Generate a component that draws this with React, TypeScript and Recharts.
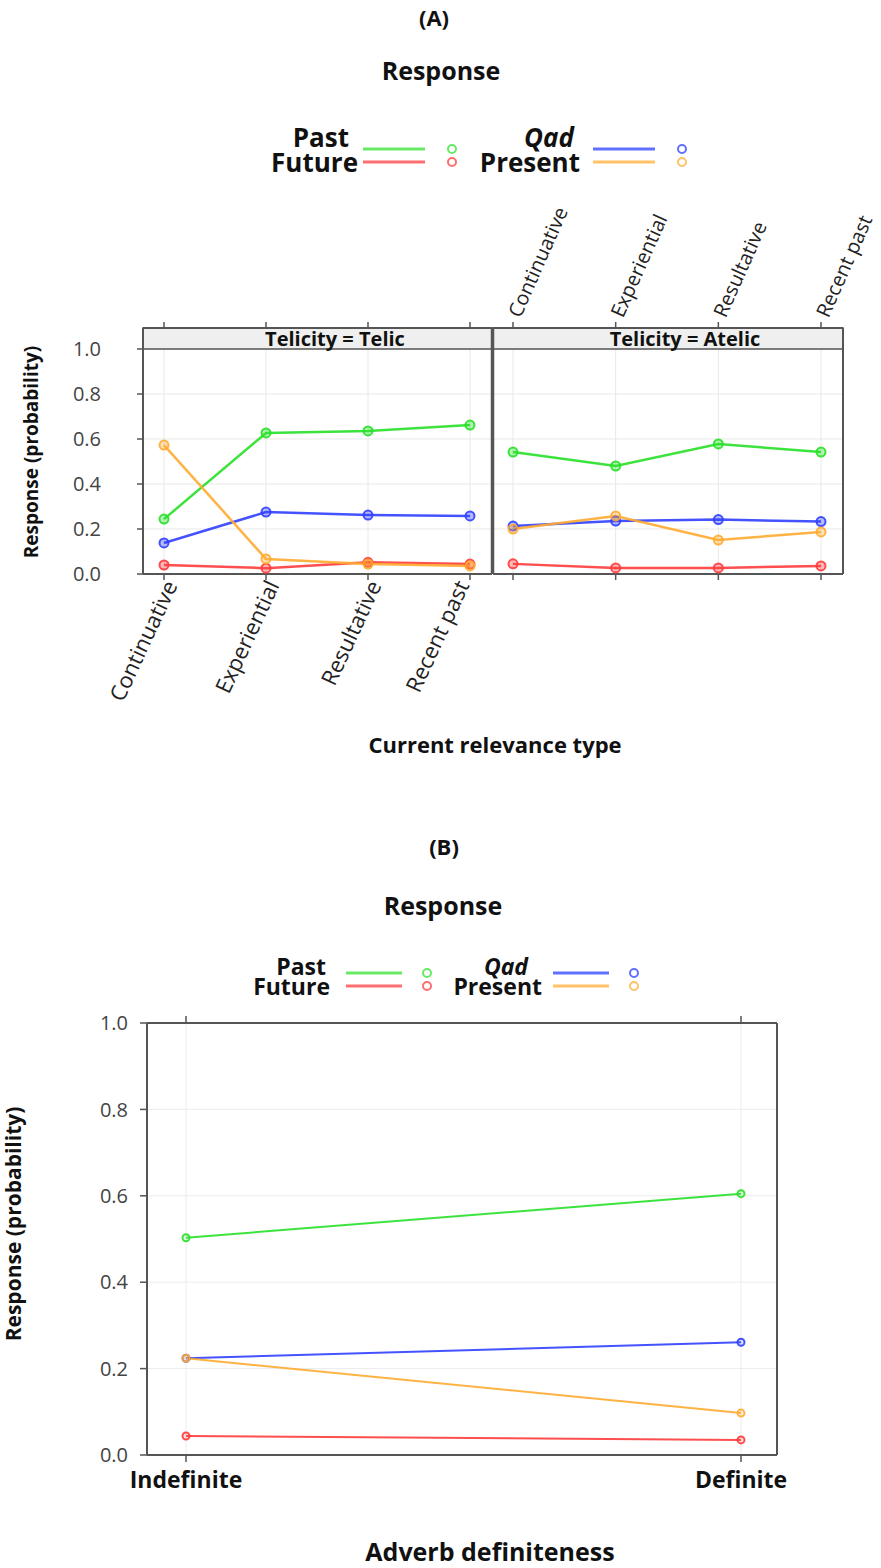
import React from 'react'
import { LineChart, Line, XAxis, YAxis, CartesianGrid, ReferenceArea } from 'recharts'

const FONT = '"Open Sans", "Noto Sans", sans-serif'

// ---- data ----
const relevanceTypes = ['Continuative', 'Experiential', 'Resultative', 'Recent past']

const telicPast = [0.244, 0.627, 0.636, 0.662]
const telicQad = [0.138, 0.275, 0.262, 0.258]
const telicFuture = [0.04, 0.026, 0.052, 0.044]
const telicPresent = [0.573, 0.067, 0.044, 0.036]

const atelicPast = [0.542, 0.48, 0.578, 0.542]
const atelicQad = [0.213, 0.235, 0.242, 0.233]
const atelicFuture = [0.045, 0.027, 0.027, 0.036]
const atelicPresent = [0.2, 0.258, 0.151, 0.187]

const definiteness = ['Indefinite', 'Definite']
const defPast = [0.503, 0.605]
const defQad = [0.224, 0.261]
const defFuture = [0.044, 0.035]
const defPresent = [0.224, 0.097]

const yTicks = [0, 0.2, 0.4, 0.6, 0.8, 1.0]

const seriesKeys = ['past', 'future', 'qad', 'present']
const seriesNames = ['Past', 'Future', 'Qad', 'Present']
const seriesColors = ['#28e028', '#ff3b3b', '#3040ff', '#ffab30']
const legendColors = ['#66ea66', '#ff6e6e', '#6070ff', '#ffc266']

function buildRows(cats: string[], past: number[], future: number[], qad: number[], present: number[]) {
  return cats.map((cat, i) => ({ cat, past: past[i], future: future[i], qad: qad[i], present: present[i] }))
}

const telicRows = buildRows(relevanceTypes, telicPast, telicFuture, telicQad, telicPresent)
const atelicRows = buildRows(relevanceTypes, atelicPast, atelicFuture, atelicQad, atelicPresent)
const defRows = buildRows(definiteness, defPast, defFuture, defQad, defPresent)

const AXIS = '#555'
const STRIP_TOP = 1.0933

const EmptyTick = () => <g />

const BottomRotTick = (props: any) => {
  const { x, y, payload } = props
  const ax = x + 7
  return (
    <text
      x={ax}
      y={y}
      dy="0.35em"
      textAnchor="end"
      transform={`rotate(-65 ${ax} ${y})`}
      fontSize={22}
      fill="#222"
      fontFamily={FONT}
    >
      {payload.value}
    </text>
  )
}

const TopRotTick = (props: any) => {
  const { x, y, payload } = props
  const ax = x + 1
  return (
    <text
      x={ax}
      y={y}
      dy="0.35em"
      textAnchor="start"
      transform={`rotate(-66 ${ax} ${y})`}
      fontSize={20}
      fill="#222"
      fontFamily={FONT}
    >
      {payload.value}
    </text>
  )
}

const stripShape = (padL: number, padR: number) => (p: any) => (
  <rect
    x={p.x - padL}
    y={p.y}
    width={p.width + padL + padR}
    height={p.height}
    fill="#efefef"
    stroke={AXIS}
    strokeWidth={1.5}
  />
)

const stripLabel = (text: string) => (props: any) => {
  const vb = props.viewBox
  return (
    <text
      x={vb.x + vb.width / 2 + 18}
      y={vb.y + vb.height / 2}
      dy="0.36em"
      textAnchor="middle"
      fontSize={20}
      fontWeight={700}
      fill="#111"
      fontFamily={FONT}
    >
      {text}
    </text>
  )
}

function seriesLines(width: number, r: number, fillOpacity: number) {
  return seriesKeys.map((key, i) => (
    <Line
      key={key}
      dataKey={key}
      name={seriesNames[i]}
      stroke={seriesColors[i]}
      strokeWidth={width}
      strokeOpacity={0.9}
      dot={{ r, fill: seriesColors[i], fillOpacity, stroke: seriesColors[i], strokeWidth: 2 }}
      activeDot={false}
      isAnimationActive={false}
    />
  ))
}

const abs: React.CSSProperties = { position: 'absolute', left: 0, top: 0 }

function LegendBlock({ fontSize, baselines, lineYs, cols }: {
  fontSize: number
  baselines: number[]
  lineYs: number[]
  cols: { idx: number[]; textEnds: number[]; lineX: [number, number]; circleX: number }[]
}) {
  return (
    <g fontFamily={FONT} fontWeight={700} fontSize={fontSize}>
      {cols.map((col, c) =>
        col.idx.map((si, row) => (
          <g key={`${c}-${row}`}>
            <text
              x={col.textEnds[row]}
              y={baselines[row]}
              textAnchor="end"
              fill="#111"
              fontStyle={seriesNames[si] === 'Qad' ? 'italic' : 'normal'}
            >
              {seriesNames[si]}
            </text>
            <line x1={col.lineX[0]} x2={col.lineX[1]} y1={lineYs[row]} y2={lineYs[row]} stroke={legendColors[si]} strokeWidth={3} />
            <circle cx={col.circleX} cy={lineYs[row]} r={4} fill="none" stroke={legendColors[si]} strokeWidth={2} />
          </g>
        )),
      )}
    </g>
  )
}

function Overlay() {
  return (
    <svg width={881} height={1568} style={{ ...abs, pointerEvents: 'none' }}>
      <g fontFamily={FONT} fontWeight={700} fill="#111">
        <text x={434} y={26} textAnchor="middle" fontSize={22}>(A)</text>
        <text x={441} y={80} textAnchor="middle" fontSize={25}>Response</text>
        <text x={31} y={452} dy="0.35em" textAnchor="middle" fontSize={19} transform="rotate(-90 31 452)">
          Response (probability)
        </text>
        <text x={495} y={753} textAnchor="middle" fontSize={22}>Current relevance type</text>

        <text x={444} y={855} textAnchor="middle" fontSize={22}>(B)</text>
        <text x={443} y={915} textAnchor="middle" fontSize={25}>Response</text>
        <text x={14} y={1224} dy="0.35em" textAnchor="middle" fontSize={21} transform="rotate(-90 14 1224)">
          Response (probability)
        </text>
        <text x={490} y={1561} textAnchor="middle" fontSize={25}>Adverb definiteness</text>
      </g>
      <LegendBlock
        fontSize={26}
        baselines={[147, 172]}
        lineYs={[149, 162]}
        cols={[
          { idx: [0, 1], textEnds: [349, 358], lineX: [363, 425], circleX: 452 },
          { idx: [2, 3], textEnds: [574, 580], lineX: [593, 655], circleX: 682 },
        ]}
      />
      <LegendBlock
        fontSize={23}
        baselines={[975, 995]}
        lineYs={[973, 986]}
        cols={[
          { idx: [0, 1], textEnds: [326, 330], lineX: [346, 402], circleX: 427 },
          { idx: [2, 3], textEnds: [528, 542], lineX: [553, 609], circleX: 634 },
        ]}
      />
    </svg>
  )
}

const numTick = (size: number) => ({ fontSize: size, fill: '#444', fontFamily: FONT })

export default function App() {
  return (
    <div style={{ ...abs, width: 881, height: 1568, background: '#fff', fontFamily: FONT }}>
      <Overlay />

      {/* (A) left panel: Telic */}
      <div style={abs}>
        <LineChart width={493} height={760} data={telicRows} margin={{ top: 318, right: 0, bottom: 156, left: 83 }}>
          <CartesianGrid stroke="#e8e8e8" strokeWidth={1} />
          <XAxis dataKey="cat" padding={{ left: 21, right: 22 }} height={30} tickSize={6} tickMargin={2}
            axisLine={{ stroke: AXIS, strokeWidth: 2 }} tickLine={{ stroke: AXIS, strokeWidth: 1.5 }} tick={<BottomRotTick />} />
          <XAxis xAxisId="t" orientation="top" dataKey="cat" padding={{ left: 21, right: 22 }} height={10} tickSize={6}
            axisLine={{ stroke: AXIS, strokeWidth: 2 }} tickLine={{ stroke: AXIS, strokeWidth: 1.5 }} tick={<EmptyTick />} />
          <YAxis domain={[0, STRIP_TOP]} ticks={yTicks} width={60} tickSize={6} tickMargin={36}
            tickFormatter={(v: number) => v.toFixed(1)} tick={numTick(20)}
            axisLine={{ stroke: AXIS, strokeWidth: 2 }} tickLine={{ stroke: AXIS, strokeWidth: 1.5 }} />
          <YAxis yAxisId="r" orientation="right" domain={[0, STRIP_TOP]} ticks={yTicks} width={1}
            tick={<EmptyTick />} tickLine={false} axisLine={{ stroke: AXIS, strokeWidth: 2.5 }} />
          <ReferenceArea y1={1} y2={STRIP_TOP} shape={stripShape(21, 22)} label={stripLabel('Telicity = Telic')} />
          {seriesLines(2.5, 4.5, 0.35)}
        </LineChart>
      </div>

      {/* (A) right panel: Atelic */}
      <div style={abs}>
        <LineChart width={881} height={760} data={atelicRows} margin={{ top: 318, right: 28, bottom: 156, left: 492 }}>
          <CartesianGrid stroke="#e8e8e8" strokeWidth={1} />
          <XAxis dataKey="cat" padding={{ left: 20, right: 22 }} height={30} tickSize={6}
            axisLine={{ stroke: AXIS, strokeWidth: 2 }} tickLine={{ stroke: AXIS, strokeWidth: 1.5 }} tick={<EmptyTick />} />
          <XAxis xAxisId="t" orientation="top" dataKey="cat" padding={{ left: 20, right: 22 }} height={10} tickSize={6} tickMargin={6}
            axisLine={{ stroke: AXIS, strokeWidth: 2 }} tickLine={{ stroke: AXIS, strokeWidth: 1.5 }} tick={<TopRotTick />} />
          <YAxis domain={[0, STRIP_TOP]} ticks={yTicks} width={1} tick={<EmptyTick />} tickLine={false}
            axisLine={{ stroke: AXIS, strokeWidth: 2.5 }} />
          <YAxis yAxisId="r" orientation="right" domain={[0, STRIP_TOP]} ticks={yTicks} width={10} tickSize={6}
            tick={<EmptyTick />} axisLine={{ stroke: AXIS, strokeWidth: 2 }} tickLine={{ stroke: AXIS, strokeWidth: 1.5 }} />
          <ReferenceArea y1={1} y2={STRIP_TOP} shape={stripShape(20, 22)} label={stripLabel('Telicity = Atelic')} />
          {seriesLines(2.5, 4.5, 0.35)}
        </LineChart>
      </div>

      {/* (B) */}
      <div style={abs}>
        <LineChart width={881} height={1568} data={defRows} margin={{ top: 1013, right: 94, bottom: 73, left: 87 }}>
          <CartesianGrid stroke="#ececec" strokeWidth={1} />
          <XAxis dataKey="cat" padding={{ left: 39, right: 36 }} height={40} tickSize={7} tickMargin={10}
            axisLine={{ stroke: AXIS, strokeWidth: 2 }} tickLine={{ stroke: AXIS, strokeWidth: 1.5 }}
            tick={{ fontSize: 23, fontWeight: 700, fill: '#111', fontFamily: FONT }} />
          <XAxis xAxisId="t" orientation="top" dataKey="cat" padding={{ left: 39, right: 36 }} height={10} tickSize={7}
            axisLine={{ stroke: AXIS, strokeWidth: 2 }} tickLine={{ stroke: AXIS, strokeWidth: 1.5 }} tick={<EmptyTick />} />
          <YAxis domain={[0, 1]} ticks={yTicks} width={60} tickSize={7} tickMargin={12}
            tickFormatter={(v: number) => v.toFixed(1)} tick={numTick(20)}
            axisLine={{ stroke: AXIS, strokeWidth: 2 }} tickLine={{ stroke: AXIS, strokeWidth: 1.5 }} />
          <YAxis yAxisId="r" orientation="right" domain={[0, 1]} ticks={yTicks} width={10} tickSize={7}
            tick={<EmptyTick />} axisLine={{ stroke: AXIS, strokeWidth: 2 }} tickLine={{ stroke: AXIS, strokeWidth: 1.5 }} />
          {seriesLines(2, 3.5, 0.15)}
        </LineChart>
      </div>
    </div>
  )
}
